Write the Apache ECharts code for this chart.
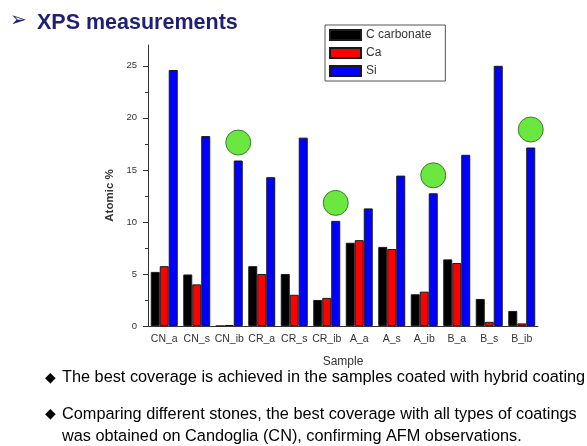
<!DOCTYPE html>
<html>
<head>
<meta charset="utf-8">
<script src="https://cdn.jsdelivr.net/npm/echarts@6/dist/echarts.min.js"></script>
<style>
  html, body { margin: 0; padding: 0; background: #fff; }
  #chart { width: 587px; height: 446px; }
</style>
</head>
<body>
<div id="chart"></div>
<script>
// XPS surface composition per sample (atomic %)
const samples = ['CN_a', 'CN_s', 'CN_ib', 'CR_a', 'CR_s', 'CR_ib', 'A_a', 'A_s', 'A_ib', 'B_a', 'B_s', 'B_ib'];
const cCarbonate = [5.2, 4.95, 0.0, 5.75, 5.0, 2.5, 8.0, 7.6, 3.05, 6.4, 2.6, 1.45];
const ca = [5.75, 4.0, 0.1, 5.0, 3.0, 2.7, 8.25, 7.4, 3.3, 6.05, 0.4, 0.25];
const si = [24.6, 18.25, 15.9, 14.3, 18.1, 10.1, 11.3, 14.45, 12.75, 16.45, 25.0, 17.15];
const yTicks = [0, 5, 10, 15, 20, 25];
// samples treated with the hybrid coating, marked with a green dot
const hybrid = ['CN_ib', 'CR_ib', 'A_ib', 'B_ib'];

const chart = echarts.init(document.getElementById('chart'), null, { renderer: 'canvas' });

const barBorder = { borderColor: '#1a1a1a', borderWidth: 1 };
const font = 'Liberation Sans, Arial, sans-serif';

chart.setOption({
  animation: false,
  textStyle: { fontFamily: font },
  graphic: [
    {
      type: 'text', left: 10, top: 11,
      style: { text: '\u27A2', font: '20px DejaVu Sans', fill: '#20206e' }
    },
    {
      type: 'text', left: 37, top: 12,
      style: { text: 'XPS measurements', font: 'bold 21.5px Liberation Sans, Arial', fill: '#1f1f78' }
    },
    {
      type: 'text', left: 45, top: 371,
      style: { text: '\u25C6', font: '14px DejaVu Sans', fill: '#000' }
    },
    {
      type: 'text', left: 62, top: 370,
      style: { text: 'The best coverage is achieved in the samples coated with hybrid coating', font: '16.3px Liberation Sans, Arial', fill: '#000' }
    },
    {
      type: 'text', left: 45, top: 407,
      style: { text: '\u25C6', font: '14px DejaVu Sans', fill: '#000' }
    },
    {
      type: 'text', left: 62, top: 404,
      style: {
        text: 'Comparing different stones, the best coverage with all types of coatings\nwas obtained on Candoglia (CN), confirming AFM observations.',
        font: '16.3px Liberation Sans, Arial', fill: '#000', lineHeight: 22
      }
    }
  ],
  legend: {
    orient: 'vertical',
    left: 325, top: 25,
    itemWidth: 31, itemHeight: 10, itemGap: 6,
    padding: [4, 14, 4, 4],
    borderColor: '#555', borderWidth: 1,
    icon: 'rect',
    textStyle: { fontSize: 12, color: '#333', fontFamily: font },
    data: ['C carbonate', 'Ca', 'Si']
  },
  grid: { left: 148, right: 49, top: 45, bottom: 120, containLabel: false },
  xAxis: {
    type: 'category',
    data: samples,
    name: 'Sample',
    nameLocation: 'middle',
    nameGap: 30,
    nameTextStyle: { fontSize: 12, color: '#333' },
    axisLine: { lineStyle: { color: '#333', width: 1 } },
    axisTick: { alignWithLabel: true, length: 4, lineStyle: { color: '#333' } },
    axisLabel: { fontSize: 10.5, color: '#333', margin: 8, interval: 0 },
    splitLine: { show: false }
  },
  yAxis: {
    type: 'value',
    min: 0, max: 27,
    name: 'Atomic %',
    nameLocation: 'middle',
    nameGap: 30,
    nameRotate: 90,
    nameTextStyle: { fontSize: 11.5, color: '#333', fontWeight: 'bold', padding: [0, 20, 0, 0] },
    axisLine: { show: true, lineStyle: { color: '#333', width: 1 } },
    axisTick: { show: true, length: 5, customValues: yTicks, lineStyle: { color: '#333' } },
    minorTick: { show: true, splitNumber: 2, length: 3, lineStyle: { color: '#333' } },
    axisLabel: { fontSize: 9.5, color: '#333', margin: 11, customValues: yTicks },
    splitLine: { show: false }
  },
  series: [
    {
      name: 'C carbonate', type: 'bar', data: cCarbonate,
      barGap: '0%', barCategoryGap: '17%',
      itemStyle: Object.assign({ color: '#000000' }, barBorder)
    },
    {
      name: 'Ca', type: 'bar', data: ca,
      itemStyle: Object.assign({ color: '#ff0000' }, barBorder)
    },
    {
      name: 'Si', type: 'bar', data: si,
      itemStyle: Object.assign({ color: '#0000ff' }, barBorder),
      markPoint: {
        symbol: 'circle',
        symbolSize: 25,
        symbolOffset: [0, -18],
        label: { show: false },
        itemStyle: { color: '#6be83f', borderColor: '#3d7a2c', borderWidth: 1 },
        data: hybrid.map(s => ({ coord: [s, si[samples.indexOf(s)]] }))
      }
    }
  ]
});
</script>
</body>
</html>
